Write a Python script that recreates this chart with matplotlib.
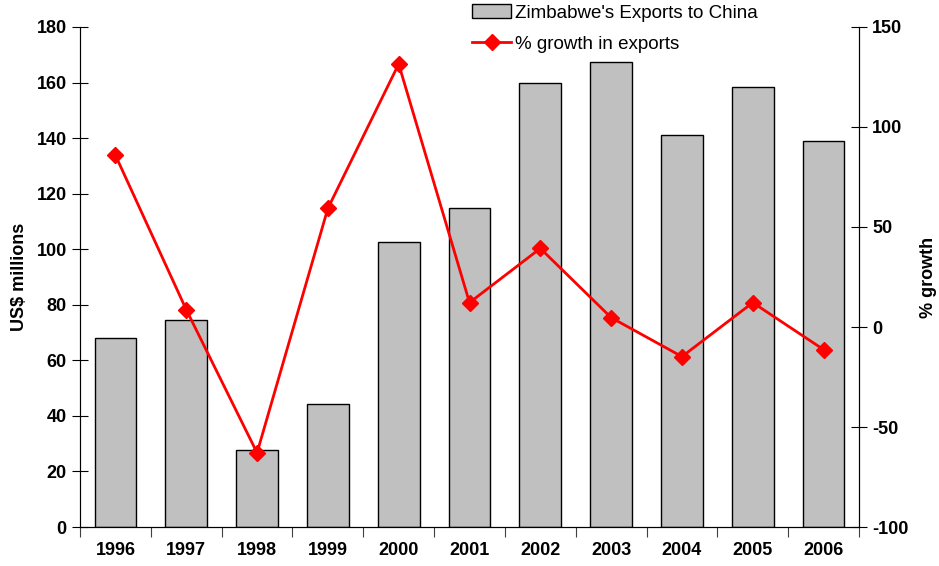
import matplotlib
matplotlib.use('Agg')
import matplotlib.pyplot as plt
import numpy as np

plt.rcParams['font.family'] = ['Liberation Sans', 'DejaVu Sans']
plt.rcParams['axes.unicode_minus'] = False

years = ['1996', '1997', '1998', '1999', '2000', '2001',
         '2002', '2003', '2004', '2005', '2006']
exports = [68.2, 74.7, 27.8, 44.4, 102.5, 114.7, 159.8, 167.4, 141.1, 158.4, 138.9]
growth = [85.9, 8.7, -62.9, 59.3, 131.5, 12.2, 39.3, 4.7, -14.8, 12.2, -11.3]

x = np.arange(len(years))

fig = plt.figure(figsize=(9.39, 5.66), dpi=100)
ax = fig.add_axes([0.0852, 0.0689, 0.8296, 0.8834])
ax2 = ax.twinx()

bars = ax.bar(x, exports, width=0.59, color='#c0c0c0', edgecolor='black',
              linewidth=1, label="Zimbabwe's Exports to China", zorder=2)
line, = ax2.plot(x, growth, color='#ff0000', linewidth=2, marker='D',
                 markersize=8, label='% growth in exports', zorder=3)

ax.set_xlim(-0.5, len(years) - 0.5)
ax.set_ylim(0, 180)
ax.set_yticks(range(0, 181, 20))
ax2.set_ylim(-100, 150)
ax2.set_yticks(range(-100, 151, 50))

# x ticks at category boundaries, labels centred under bars
ax.set_xticks(np.arange(-0.5, len(years), 1.0))
ax.set_xticklabels([])
ax.set_xticks(x, minor=True)
ax.set_xticklabels(years, minor=True, fontsize=13, fontweight='bold')
ax.tick_params(axis='x', which='major', direction='out', length=7, color='#404040')
ax.tick_params(axis='x', which='minor', length=0, pad=11)

ax.tick_params(axis='y', direction='inout', length=12, labelsize=13, color='black')
ax2.tick_params(axis='y', direction='inout', length=12, labelsize=13, color='black')
for lab in ax.get_yticklabels() + ax2.get_yticklabels():
    lab.set_fontweight('bold')

for a in (ax, ax2):
    a.spines['top'].set_visible(False)
ax.spines['left'].set_color('#404040')
ax2.spines['right'].set_color('black')

ax.set_ylabel('US$ millions', fontsize=13, fontweight='bold', labelpad=6)
ax2.set_ylabel('% growth', fontsize=13, fontweight='bold', labelpad=8)

fig.legend(handles=[bars, line], loc='upper left', bbox_to_anchor=(0.4845, 1.022),
           frameon=False, fontsize=13.5, handlelength=2.1, handletextpad=0.2,
           labelspacing=0.75)

fig.savefig('out.png', dpi=100)
